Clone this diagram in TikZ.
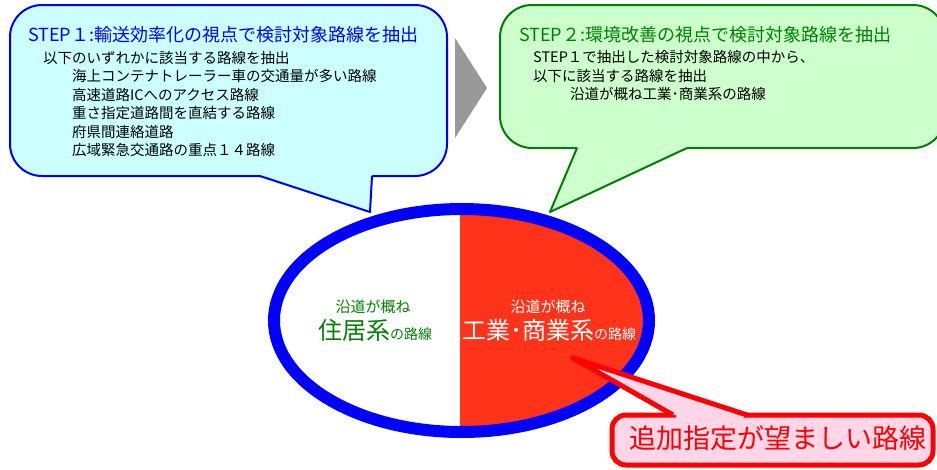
\documentclass[tikz,border=0pt]{standalone}
\usepackage{fontspec}
\setmainfont{Noto Sans CJK JP}
\definecolor{cyanfill}{RGB}{204,255,255}
\definecolor{greenfill}{RGB}{204,255,204}
\definecolor{greenline}{RGB}{0,128,0}
\definecolor{greentext}{RGB}{0,128,0}
\definecolor{stepblue}{RGB}{0,0,255}
\definecolor{redfill}{RGB}{255,51,25}
\definecolor{pinkfill}{RGB}{255,214,232}
\definecolor{arrowgray}{RGB}{153,153,153}
\begin{document}
\begin{tikzpicture}[x=1pt,y=-1pt,
  bluebox/.style={draw=stepblue, line width=2pt, fill=cyanfill, rounded corners=32pt},
  greenbox/.style={draw=greenline, line width=2pt, fill=greenfill, rounded corners=32pt},
  redbox/.style={draw=red, line width=5pt, fill=pinkfill, rounded corners=14pt},
  head/.style={anchor=west, inner sep=0pt, font=\fontsize{18}{20}\selectfont},
  body/.style={anchor=west, inner sep=0pt, font=\fontsize{14.5}{16}\selectfont, text=black},
  small/.style={anchor=center, inner sep=0pt, font=\fontsize{15}{17}\selectfont},
  big/.style={anchor=center, inner sep=0pt}]
\useasboundingbox (0,0) rectangle (937,469);
\clip (0,0) rectangle (937,469);
\fill[white] (0,0) rectangle (937,469);

% STEP 1 callout
\coordinate (b1a) at (260,176);
\coordinate (b1tip) at (370,212);
\coordinate (b1b) at (372,176);
\draw[bluebox] (10,5) rectangle (447,176);
\fill[cyanfill] (262,172) -- (b1a) -- (b1tip) -- (b1b) -- (372,172) -- cycle;
\draw[stepblue, line width=2pt, line join=round] (b1a) -- (b1tip) -- (b1b);
\node[head, text=stepblue] (h1) at (28,35) {STEP１:輸送効率化の視点で検討対象路線を抽出};
\node[body] (t10) at (43,58) {以下のいずれかに該当する路線を抽出};
\node[body] (t11) at (72,76) {海上コンテナトレーラー車の交通量が多い路線};
\node[body] (t12) at (72,95) {高速道路ICへのアクセス路線};
\node[body] (t13) at (72,113) {重さ指定道路間を直結する路線};
\node[body] (t14) at (72,132) {府県間連絡道路};
\node[body] (t15) at (72,150) {広域緊急交通路の重点１４路線};

% gray arrow
\coordinate (g1) at (455,38);
\coordinate (g2) at (487,88);
\coordinate (g3) at (455,138);
\fill[arrowgray] (g1) -- (g2) -- (g3) -- cycle;

% STEP 2 callout
\coordinate (b2a) at (577,148);
\coordinate (b2tip) at (550,212);
\coordinate (b2b) at (687,148);
\draw[greenbox] (500,5) rectangle (945,148);
\fill[greenfill] (579,144) -- (b2a) -- (b2tip) -- (b2b) -- (685,144) -- cycle;
\draw[greenline, line width=2pt, line join=round] (b2a) -- (b2tip) -- (b2b);
\node[head, text=greentext] (h2) at (519,35) {STEP２:環境改善の視点で検討対象路線を抽出};
\node[body] (t20) at (533,57) {STEP１で抽出した検討対象路線の中から、};
\node[body] (t21) at (533,76) {以下に該当する路線を抽出};
\node[body] (t22) at (570,94) {沿道が概ね工業･商業系の路線};

% ellipse
\coordinate (ell) at (461.5,320.5);
\fill[white] (ell) ellipse [x radius=187.5, y radius=111.5];
\begin{scope}
  \clip (ell) ellipse [x radius=187.5, y radius=111.5];
  \fill[redfill] (460,200) rectangle (660,440);
\end{scope}
\draw[stepblue, line width=12pt] (ell) ellipse [x radius=187.5, y radius=111.5];
\node[small, text=greentext] (e1) at (373,307) {沿道が概ね};
\node[big, text=greentext] (e2) at (375,330) {\fontsize{24}{26}\selectfont 住居系\fontsize{14}{16}\selectfont の路線};
\node[small, text=white] (e3) at (548,307) {沿道が概ね};
\node[big, text=white] (e4) at (549,330) {\fontsize{24}{26}\selectfont 工業･商業系\fontsize{14}{16}\selectfont の路線};

% red callout
\coordinate (r1a) at (673,415);
\coordinate (r1tip) at (573,358);
\coordinate (r1b) at (747,415);
\draw[redbox] (612,415) rectangle (933,465);
\fill[pinkfill] (676,412) rectangle (744,419.5);
\fill[pinkfill] (r1a) -- (r1tip) -- (r1b) -- cycle;
\draw[red, line width=5pt, line join=round] (r1a) -- (r1tip) -- (r1b);
\node[anchor=center, inner sep=0pt, text=red, font=\fontsize{27}{30}\selectfont] (rt) at (778,438) {追加指定が望ましい路線};
\end{tikzpicture}
\end{document}
